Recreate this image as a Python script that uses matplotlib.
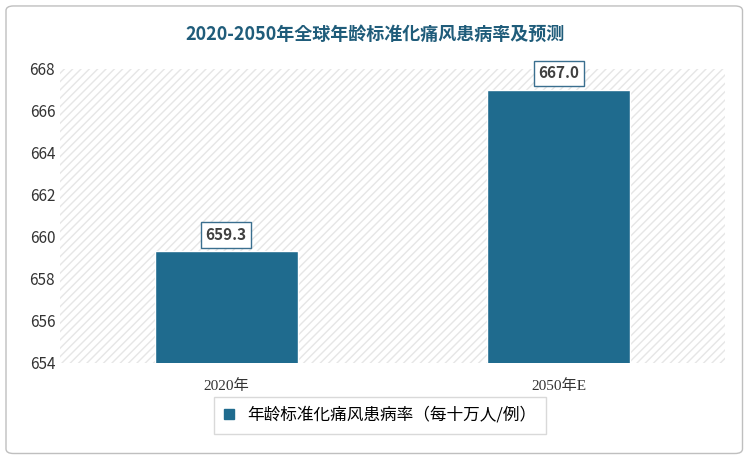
import matplotlib.pyplot as plt
from matplotlib.patches import FancyBboxPatch

CJK = ["Noto Sans CJK SC", "Noto Sans CJK JP", "DejaVu Sans"]
plt.rcParams["font.family"] = CJK
plt.rcParams["hatch.linewidth"] = 1.0

categories = ["2020年", "2050年E"]
values = [659.3, 667.0]
series_name = "年龄标准化痛风患病率（每十万人/例）"
title = "2020-2050年全球年龄标准化痛风患病率及预测"

fig = plt.figure(figsize=(7.5, 4.59), dpi=100)
bg = fig.add_axes([0, 0, 1, 1], zorder=-5)
bg.axis("off")
bg.add_patch(FancyBboxPatch((0.008, 0.012), 0.982, 0.975, boxstyle="round,pad=0,rounding_size=0.01",
                            transform=bg.transAxes, fc="white", ec="#bfbfbf", lw=1))

ax = fig.add_axes([0.08, 0.21, 0.887, 0.64])
ax.set_facecolor("white")
ax.add_patch(plt.Rectangle((0, 0), 1, 1, transform=ax.transAxes, fill=False,
                           hatch="////", ec="#e6e6e6", lw=0))

color = "#1f6b8e"
ax.bar(range(2), values, width=0.43, color=color, ec="white", lw=1, zorder=3)
ax.set_ylim(654, 668)
ax.set_xlim(-0.5, 1.5)
ax.set_yticks(range(654, 669, 2))
ax.set_xticks(range(2))
ax.set_xticklabels(categories, fontfamily=["Liberation Serif"] + CJK, fontsize=11)
ax.tick_params(axis="y", length=0, labelsize=11, colors="#333333")
ax.tick_params(axis="x", length=0, labelsize=11, colors="#333333", pad=12)
for s in ax.spines.values():
    s.set_visible(False)

for i, v in enumerate(values):
    ax.text(i, v + 0.4, f"{v:.1f}", ha="center", va="bottom", fontsize=11, fontweight="bold",
            color="#404040", zorder=4,
            bbox=dict(boxstyle="square,pad=0.3", fc="white", ec="#3a6f8f", lw=1))

fig.text(0.5, 0.925, title, ha="center", va="center", fontsize=13, fontweight="bold", color="#1f5c7a")

ax.legend([plt.Rectangle((0, 0), 1, 1, color=color)], [series_name],
          loc="center", bbox_to_anchor=(0.507, 0.095), bbox_transform=fig.transFigure,
          frameon=True, fontsize=12, handlelength=0.6, handleheight=0.6, fancybox=False,
          edgecolor="#d0d0d0", borderpad=0.6, borderaxespad=0)

fig.savefig("out.png", dpi=100)
